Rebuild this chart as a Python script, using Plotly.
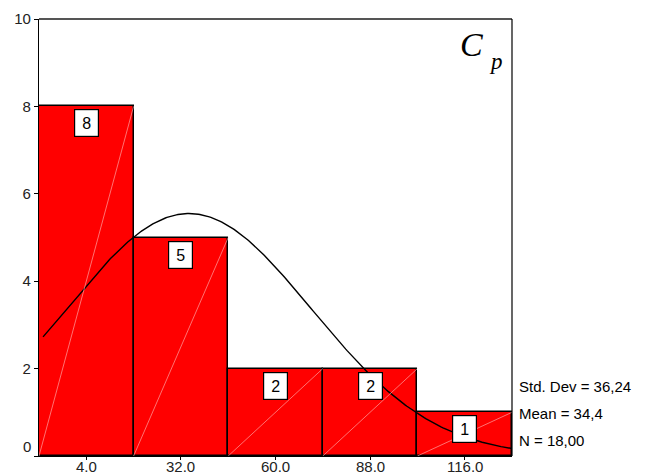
import numpy as np
import plotly.graph_objects as go

# Histogram of Cp: bin centres, counts and axis labels
bin_centers = [4.0, 32.0, 60.0, 88.0, 116.0]
counts = [8, 5, 2, 2, 1]
tick_labels = ["4.0", "32.0", "60.0", "88.0", "116.0"]
y_ticks = [0, 2, 4, 6, 8, 10]
y_tick_text = ["", "2", "4", "6", "8", "10"]

# Summary statistics shown beside the plot
std_dev = 36.24
mean = 34.4
n_obs = 18
stats_text = ["Std. Dev = 36,24", "Mean = 34,4", "N = 18,00"]

bin_width = 28.0
x_min = bin_centers[0] - bin_width / 2
x_max = bin_centers[-1] + bin_width / 2

FONT = "Arial, Liberation Sans"

fig = go.Figure()

fig.add_trace(go.Bar(
    x=bin_centers, y=counts, width=bin_width,
    marker=dict(color="#ff0000", line=dict(color="black", width=1.5)),
    hoverinfo="skip", showlegend=False,
))

# faint diagonal hatch in each bar (bottom-left to top-right)
for c, h in zip(bin_centers, counts):
    fig.add_shape(type="line", x0=c - bin_width / 2, y0=0, x1=c + bin_width / 2, y1=h,
                  line=dict(color="rgba(255,190,190,0.75)", width=0.8), layer="above")

# fitted normal curve scaled to counts
xs = np.linspace(x_min + 1.2, x_max, 300)
ys = n_obs * bin_width / (std_dev * np.sqrt(2 * np.pi)) * np.exp(-0.5 * ((xs - mean) / std_dev) ** 2)
fig.add_trace(go.Scatter(x=xs, y=ys, mode="lines", line=dict(color="black", width=1.4),
                         hoverinfo="skip", showlegend=False))

# count labels in white boxes just under each bar top
for c, h in zip(bin_centers, counts):
    fig.add_annotation(x=c, y=h, text=str(h), showarrow=False, yanchor="top", yshift=-3,
                       font=dict(family=FONT, size=16, color="black"),
                       bgcolor="white", bordercolor="black", borderwidth=1.2, borderpad=2,
                       width=19, height=22)

# x tick labels placed close under the axis (they run off the bottom edge)
for c, lab in zip(bin_centers, tick_labels):
    fig.add_annotation(x=c, yref="paper", y=0, text=lab, showarrow=False,
                       yanchor="top", yshift=-1, borderpad=0,
                       font=dict(family=FONT, size=15, color="#222222"))

# frame: gray top edge, black right edge
fig.add_shape(type="line", xref="paper", yref="paper", x0=0, x1=1, y0=1, y1=1,
              line=dict(color="#555555", width=2))
fig.add_shape(type="line", xref="paper", yref="paper", x0=1, x1=1, y0=0, y1=1,
              line=dict(color="black", width=1.2))

# zero label raised slightly above its tick
fig.add_annotation(xref="paper", yref="y", x=0, y=0, xanchor="right", yanchor="middle",
                   xshift=-6, yshift=10, text="0", showarrow=False,
                   font=dict(family=FONT, size=15, color="#222222"))

# statistics block
for i, t in enumerate(stats_text):
    fig.add_annotation(xref="paper", yref="paper", x=1, y=(456 - 386 - 27 * i) / 437,
                       xanchor="left", yanchor="middle", xshift=5, text=t, showarrow=False,
                       font=dict(family=FONT, size=15, color="black"))

# variable name C_p
fig.add_annotation(xref="paper", yref="paper", x=(485 - 39) / 473, y=(456 - 44) / 437,
                   xanchor="right", yanchor="middle", text="<i>C</i>", showarrow=False,
                   font=dict(family="Liberation Serif, Times New Roman", size=34, color="black"))
fig.add_annotation(xref="paper", yref="paper", x=(487 - 39) / 473, y=(456 - 61) / 437,
                   xanchor="left", yanchor="middle", text="<i>p</i>", showarrow=False,
                   font=dict(family="Liberation Serif, Times New Roman", size=23, color="black"))

fig.update_layout(
    width=648, height=473,
    margin=dict(l=39, r=136, t=19, b=17),
    plot_bgcolor="white", paper_bgcolor="white",
    bargap=0,
    xaxis=dict(range=[x_min, x_max], tickvals=bin_centers, showticklabels=False,
               automargin=False,
               showgrid=False, zeroline=False, showline=True, linecolor="black", linewidth=1.2,
               ticks="outside", ticklen=3, tickcolor="black"),
    yaxis=dict(range=[0, 10], tickvals=y_ticks, ticktext=y_tick_text,
               automargin=False,
               showgrid=False, zeroline=False, showline=True, linecolor="black", linewidth=1.2,
               ticks="outside", ticklen=4, tickcolor="black",
               tickfont=dict(family=FONT, size=15, color="#222222")),
)

fig.write_html("out.html")
